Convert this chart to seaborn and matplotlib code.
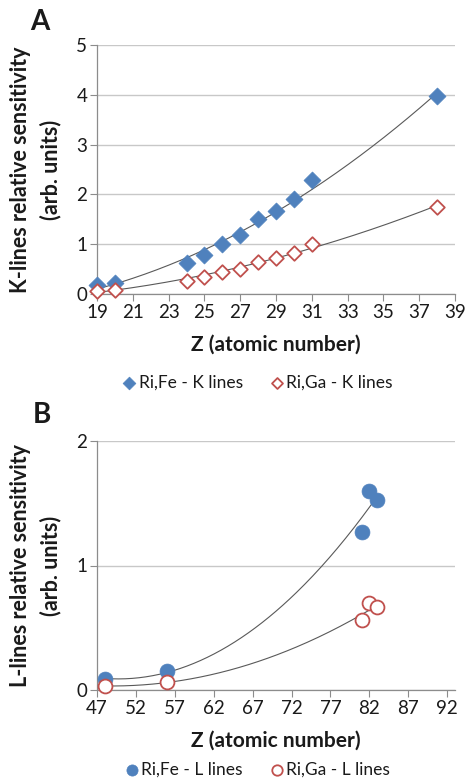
import numpy as np
import pandas as pd
import matplotlib
matplotlib.use("Agg")
import matplotlib.pyplot as plt
import seaborn as sns

# ---- Data ----
zK = [19, 20, 24, 25, 26, 27, 28, 29, 30, 31, 38]
fe_K = [0.18, 0.22, 0.63, 0.78, 1.00, 1.18, 1.50, 1.66, 1.90, 2.29, 3.97]
ga_K = [0.06, 0.09, 0.27, 0.34, 0.44, 0.51, 0.65, 0.73, 0.83, 1.00, 1.75]

zL = [48, 56, 81, 82, 83]
fe_L = [0.085, 0.155, 1.27, 1.60, 1.53]
ga_L = [0.03, 0.065, 0.56, 0.70, 0.665]

xticksA = list(range(19, 40, 2))
yticksA = [0, 1, 2, 3, 4, 5]
xticksB = list(range(47, 93, 5))
yticksB = [0, 1, 2]

BLUE = "#4F81BD"
RED = "#C0504D"
GRID = "#C8C8C8"
SPINE = "#8C8C8C"
TREND = "#595959"
TXT = "#1a1a1a"

sns.set_theme(style="white")
plt.rcParams['font.family'] = ['Lato', 'DejaVu Sans']

fig = plt.figure(figsize=(4.67, 7.81), dpi=100)
W, H = 467, 781
def rect(l, t, r, b):
    return [l / W, 1 - b / H, (r - l) / W, (b - t) / H]

axA = fig.add_axes(rect(97, 45, 455, 294))
axB = fig.add_axes(rect(97, 441, 455, 690))

def trend(ax, x, y, order, color=TREND):
    c = np.polyfit(x, y, order)
    xs = np.linspace(min(x), max(x), 200)
    sns.lineplot(x=xs, y=np.polyval(c, xs), ax=ax, color=color, lw=0.8, zorder=2)

def style(ax, xt, yt, xlim, ylim, ylab):
    ax.set_xlim(*xlim)
    ax.set_ylim(*ylim)
    ax.set_xticks(xt)
    ax.set_yticks(yt)
    ax.tick_params(axis='both', labelsize=13.5, length=5, width=0.8, color=SPINE,
                   labelcolor=TXT, direction='out', bottom=True, left=True, pad=2)
    ax.grid(axis='y', color=GRID, lw=1.0, zorder=0)
    ax.set_axisbelow(True)
    for s in ['top', 'right']:
        ax.spines[s].set_visible(False)
    for s in ['left', 'bottom']:
        ax.spines[s].set_color(SPINE)
        ax.spines[s].set_linewidth(0.9)
    ax.set_xlabel("Z (atomic number)", fontsize=15, fontweight='bold', color=TXT,
                  va='center')
    ax.xaxis.set_label_coords(0.5, -51 / 249, transform=ax.transAxes)
    ax.set_ylabel(ylab, fontsize=15.5, fontweight='bold', linespacing=1.5,
                  color=TXT, va='center')
    ax.yaxis.set_label_coords(-61 / 358, 0.5)
    for coll in ax.collections:
        coll.set_clip_on(False)

# Panel A
trend(axA, zK, fe_K, 2)
trend(axA, zK, ga_K, 2)
sns.scatterplot(x=zK, y=fe_K, ax=axA, marker='D', s=75, color=BLUE, edgecolor=BLUE,
                linewidth=0.5, zorder=3, label="Ri,Fe - K lines")
sns.scatterplot(x=zK, y=ga_K, ax=axA, marker='D', s=55, facecolor='white', edgecolor=RED,
                linewidth=1.3, zorder=3, label="Ri,Ga - K lines")
style(axA, xticksA, yticksA, (19, 39), (0, 5),
      "K-lines relative sensitivity\n(arb. units)")

# Panel B
trend(axB, zL, fe_L, 2)
trend(axB, zL, ga_L, 2)
sns.scatterplot(x=zL, y=fe_L, ax=axB, marker='o', s=115, color=BLUE, edgecolor=BLUE,
                linewidth=0.5, zorder=3, label="Ri,Fe - L lines")
sns.scatterplot(x=zL, y=ga_L, ax=axB, marker='o', s=100, facecolor='white', edgecolor=RED,
                linewidth=1.3, zorder=3, label="Ri,Ga - L lines")
style(axB, xticksB, yticksB, (47, 93), (0, 2),
      "L-lines relative sensitivity\n(arb. units)")

for ax, y in [(axA, 383), (axB, 770)]:
    leg = ax.legend(loc='center', bbox_to_anchor=(256 / W, 1 - y / H),
                    bbox_transform=fig.transFigure, ncol=2, frameon=False,
                    fontsize=12.5, handletextpad=0.0, columnspacing=1.4,
                    markerscale=0.75, handlelength=1.1)
    for t in leg.get_texts():
        t.set_color(TXT)

fig.text(40 / W, 1 - 22 / H, "A", fontsize=20, fontweight='bold', ha='center', va='center', color=TXT)
fig.text(42 / W, 1 - 415 / H, "B", fontsize=20, fontweight='bold', ha='center', va='center', color=TXT)

fig.savefig("out.png", dpi=100)
